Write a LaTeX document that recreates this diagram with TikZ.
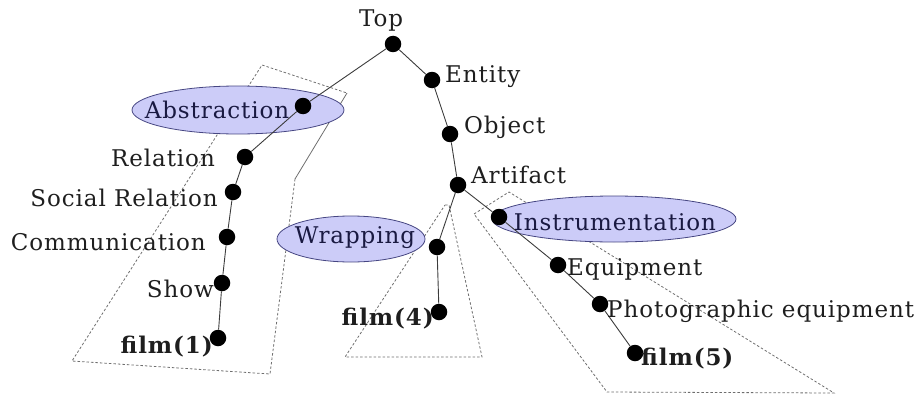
\documentclass[tikz,border=0pt]{standalone}
\usepackage{fontspec}
\setmainfont{DejaVu Serif}[LetterSpace=4]
\usetikzlibrary{shapes.geometric}

\definecolor{edgegray}{RGB}{60,60,60}
\definecolor{boxgray}{RGB}{110,110,110}
\definecolor{lavender}{RGB}{204,204,248}
\definecolor{navyline}{RGB}{70,70,130}
\definecolor{navytext}{RGB}{25,25,65}
\definecolor{labeltext}{RGB}{30,30,30}

\tikzset{
  dot/.style={circle, fill=black, inner sep=0pt, minimum size=16.5pt},
  edge/.style={draw=edgegray, line width=0.9pt},
  region/.style={draw=boxgray, line width=0.8pt, dash pattern=on 2.5pt off 2pt},
  regionsolid/.style={draw=boxgray, line width=0.8pt},
  bubble/.style={ellipse, draw=navyline, line width=0.8pt, fill=lavender, inner sep=0pt},
  lbl/.style={inner sep=0pt, text=labeltext, font=\fontsize{23}{27}\selectfont},
  blbl/.style={lbl, font=\fontsize{23}{27}\selectfont\bfseries},
  inlbl/.style={inner sep=0pt, text=navytext, font=\fontsize{23}{27}\selectfont}
}

\begin{document}
\begin{tikzpicture}[x=1pt, y=-1pt]
\useasboundingbox (0,0) rectangle (917,396);

% corners of the three dashed regions
\coordinate (ra1) at (262,65);
\coordinate (ra2) at (347,93);
\coordinate (ra3) at (295,179);
\coordinate (ra4) at (270,374);
\coordinate (ra5) at (72,361);
\coordinate (rb1) at (445,205);
\coordinate (rb2) at (449,205);
\coordinate (rb3) at (482,357);
\coordinate (rb4) at (345,357);
\coordinate (rc1) at (474,214);
\coordinate (rc2) at (509,192);
\coordinate (rc3) at (834,393);
\coordinate (rc4) at (607,392);

% dashed regions
\draw[region] (ra3) -- (ra4) -- (ra5) -- (ra1) -- (ra2);
\draw[regionsolid] (ra2) -- (ra3);
\draw[region] (rb1) -- (rb2) -- (rb3) -- (rb4) -- cycle;
\draw[region] (rc1) -- (rc2) -- (rc3) -- (rc4) -- cycle;

% highlighted concepts
\node[bubble, minimum width=212pt, minimum height=48pt] (eAbstr) at (238,110) {};
\node[bubble, minimum width=148pt, minimum height=46pt] (eWrap) at (351,239) {};
\node[bubble, minimum width=244pt, minimum height=46pt] (eInstr) at (614,219) {};

% tree nodes
\node[dot] (nTop)      at (393,44) {};
\node[dot] (nEntity)   at (432,80) {};
\node[dot] (nObject)   at (450,134) {};
\node[dot] (nArtifact) at (458,185) {};
\node[dot] (nAbstr)    at (303,106) {};
\node[dot] (nRelation) at (245,157) {};
\node[dot] (nSocial)   at (233,192) {};
\node[dot] (nComm)     at (227,237) {};
\node[dot] (nShow)     at (222,283) {};
\node[dot] (nFilmA)    at (218,338) {};
\node[dot] (nWrap)     at (437,247) {};
\node[dot] (nFilmB)    at (439,312) {};
\node[dot] (nInstr)    at (499,217) {};
\node[dot] (nEquip)    at (558,265) {};
\node[dot] (nPhoto)    at (600,304) {};
\node[dot] (nFilmC)    at (635,353) {};

% hypernym links
\draw[edge] (nTop) -- (nEntity) -- (nObject) -- (nArtifact);
\draw[edge] (nTop) -- (nAbstr) -- (nRelation) -- (nSocial) -- (nComm) -- (nShow) -- (nFilmA);
\draw[edge] (nArtifact) -- (nWrap) -- (nFilmB);
\draw[edge] (nArtifact) -- (nInstr) -- (nEquip) -- (nPhoto) -- (nFilmC);

% labels
\node[lbl, anchor=base] (lTop) at (381,27) {Top};
\node[lbl, anchor=base west] (lEntity) at (445,82) {Entity};
\node[lbl, anchor=base west] (lObject) at (464,133) {Object};
\node[lbl, anchor=base west] (lArtifact) at (471,183) {Artifact};
\node[inlbl, anchor=base] (lAbstr) at (217,118) {Abstraction};
\node[lbl, anchor=base east] (lRelation) at (215,166) {Relation};
\node[lbl, anchor=base east] (lSocial) at (218,206) {Social Relation};
\node[lbl, anchor=base east] (lComm) at (206,250) {Communication};
\node[lbl, anchor=base east] (lShow) at (214,297) {Show};
\node[blbl, anchor=base east] (lFilmA) at (213,353) {film(1)};
\node[inlbl, anchor=base] (lWrap) at (355,243) {Wrapping};
\node[blbl, anchor=base east] (lFilmB) at (434,325) {film(4)};
\node[inlbl, anchor=base] (lInstr) at (615,230) {Instrumentation};
\node[lbl, anchor=base west] (lEquip) at (567,275) {Equipment};
\node[lbl, anchor=base west] (lPhoto) at (607,317) {Photographic equipment};
\node[blbl, anchor=base west] (lFilmC) at (641,365) {film(5)};
\end{tikzpicture}
\end{document}
